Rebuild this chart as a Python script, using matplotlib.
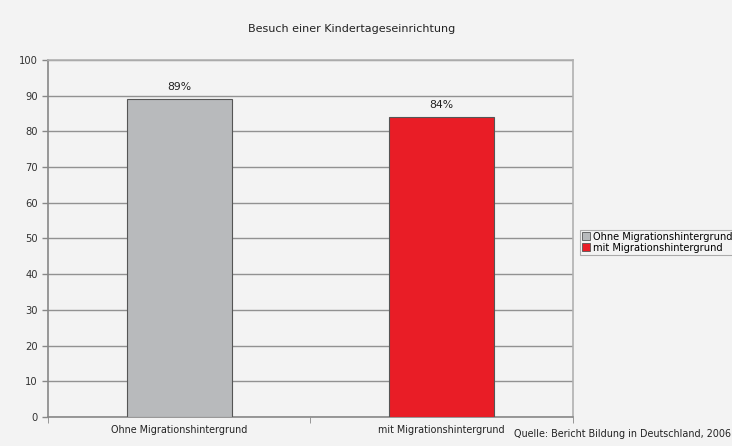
import matplotlib
matplotlib.use("Agg")
import matplotlib.pyplot as plt
from matplotlib.patches import Patch

title = "Besuch einer Kindertageseinrichtung"
categories = ["Ohne Migrationshintergrund", "mit Migrationshintergrund"]
values = [89, 84]
labels = ["89%", "84%"]
colors = ["#b8babc", "#e91d26"]
yticks = [0, 10, 20, 30, 40, 50, 60, 70, 80, 90, 100]
source = "Quelle: Bericht Bildung in Deutschland, 2006"

plt.rcParams['font.family'] = ['DejaVu Sans']
bg = "#f3f3f3"
fig = plt.figure(figsize=(7.32, 4.46), dpi=100, facecolor=bg)
ax = fig.add_axes([0.0656, 0.065, 0.717, 0.8005], facecolor=bg)

x = list(range(len(categories)))
ax.bar(x, values, width=0.4, color=colors, edgecolor="#555555", linewidth=0.8, zorder=3)
for xi, v, l in zip(x, values, labels):
    ax.text(xi, v + 2, l, ha="center", va="bottom", fontsize=7.8, color="#222222")

ax.set_xlim(-0.5, 1.5)
ax.set_ylim(0, 100)
ax.set_yticks(yticks)
ax.tick_params(axis="y", labelsize=7.2, length=4, color="#888888", width=1, colors="#333333")
ax.yaxis.grid(True, color="#919191", linewidth=1, zorder=0)
ax.set_xticks(x)
ax.set_xticklabels(categories, fontsize=6.9, color="#222222")
ax.tick_params(axis="x", length=0, pad=6)
ax.set_xticks([-0.5, 0.5, 1.5], minor=True)
ax.tick_params(axis="x", which="minor", length=4, color="#888888")
for s in ["left", "bottom"]:
    ax.spines[s].set_color("#888888")
    ax.spines[s].set_linewidth(1.2)
for s in ["top", "right"]:
    ax.spines[s].set_color("#b0b0b0")
    ax.spines[s].set_linewidth(1.2)

fig.text(0.48, 0.935, title, ha="center", va="center", fontsize=8, color="#222222")
fig.text(0.998, 0.028, source, ha="right", va="center", fontsize=6.9, color="#222222")

handles = [Patch(facecolor=c, edgecolor="#555555", linewidth=0.6) for c in colors]
leg = fig.legend(handles, categories, loc="upper left", bbox_to_anchor=(0.792, 0.485),
                 fontsize=7.1, frameon=True, fancybox=False, edgecolor="#999999",
                 facecolor=bg, handlelength=0.8, handleheight=0.8, handletextpad=0.3,
                 borderpad=0.2, labelspacing=0.1, borderaxespad=0)
leg.get_frame().set_linewidth(0.8)

fig.savefig("out.png", dpi=100, facecolor=bg)
